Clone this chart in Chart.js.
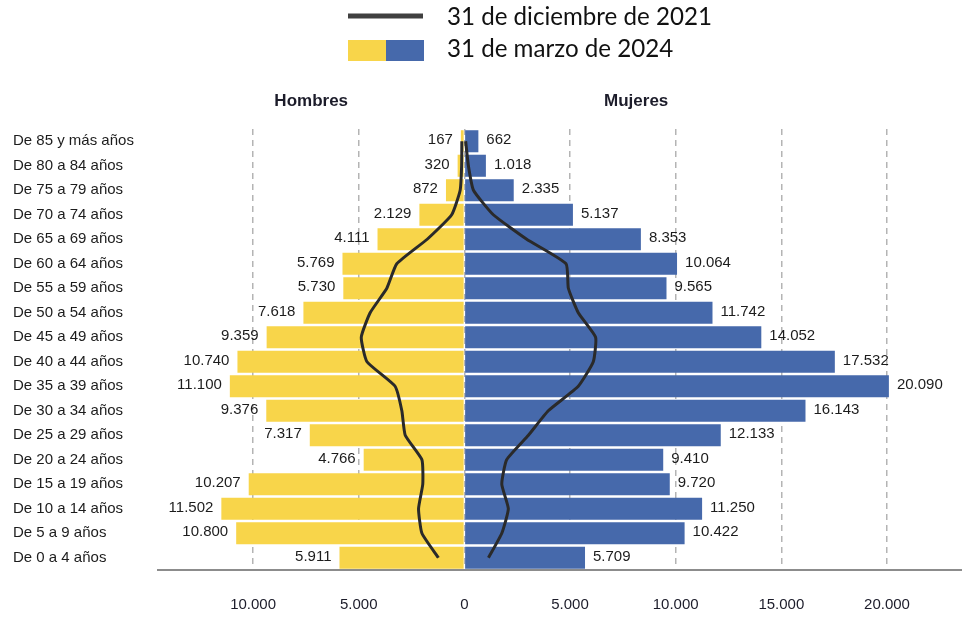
<!DOCTYPE html>
<html>
<head>
<meta charset="utf-8">
<script src="https://cdn.jsdelivr.net/npm/chart.js@4.4.1/dist/chart.umd.min.js"></script>
<style>
html, body { margin: 0; padding: 0; background: #fff; }
#wrap { position: relative; width: 962px; height: 617px; }
</style>
</head>
<body>
<div id="wrap"><canvas id="pyramidChart"></canvas></div>
<script>
// Data (top row first)
const ageGroups = [
    "De 85 y más años", "De 80 a 84 años", "De 75 a 79 años", "De 70 a 74 años",
    "De 65 a 69 años", "De 60 a 64 años", "De 55 a 59 años", "De 50 a 54 años",
    "De 45 a 49 años", "De 40 a 44 años", "De 35 a 39 años", "De 30 a 34 años",
    "De 25 a 29 años", "De 20 a 24 años", "De 15 a 19 años", "De 10 a 14 años",
    "De 5 a 9 años", "De 0 a 4 años"
];
const men2024 = [167, 320, 872, 2129, 4111, 5769, 5730, 7618, 9359, 10740, 11100, 9376, 7317, 4766, 10207, 11502, 10800, 5911];
const women2024 = [662, 1018, 2335, 5137, 8353, 10064, 9565, 11742, 14052, 17532, 20090, 16143, 12133, 9410, 9720, 11250, 10422, 5709];
const men2021 = [120, 130, 200, 600, 1760, 3200, 3670, 4460, 4880, 4610, 3280, 2960, 2800, 2010, 1970, 2170, 2010, 1230];
const women2021 = [60, 190, 430, 1370, 2950, 4810, 4920, 5390, 6210, 6100, 5390, 3970, 3030, 2000, 1770, 2080, 1770, 1140];
const xTicks = [-10000, -5000, 0, 5000, 10000, 15000, 20000];

const legendLine = "31 de diciembre de 2021";
const legendBars = "31 de marzo de 2024";
const menTitle = "Hombres";
const womenTitle = "Mujeres";

const yellow = "#F8D54A";
const blue = "#4669AB";
const lineColor = "#2a2a2a";
const textFont = "'Liberation Sans', Arial, sans-serif";

const formatNumber = (v) => String(Math.round(Math.abs(v))).replace(/\B(?=(\d{3})+(?!\d))/g, ".");

// Value labels, headers and legend
const decorPlugin = {
    id: "decor",
    afterDatasetsDraw(chart) {
        const ctx = chart.ctx;
        ctx.save();
        ctx.font = "15px " + textFont;
        ctx.fillStyle = "#1c1c1c";
        ctx.textBaseline = "middle";
        [2, 3].forEach(dsIndex => {
            const meta = chart.getDatasetMeta(dsIndex);
            const values = chart.data.datasets[dsIndex].data;
            meta.data.forEach((bar, i) => {
                const v = values[i];
                if (v < 0) {
                    ctx.textAlign = "right";
                    ctx.fillText(formatNumber(v), bar.x - 8, bar.y - 1);
                } else {
                    ctx.textAlign = "left";
                    ctx.fillText(formatNumber(v), bar.x + 8, bar.y - 1);
                }
            });
        });
        ctx.restore();
    },
    afterDraw(chart) {
        const ctx = chart.ctx;
        const xScale = chart.scales.x;
        ctx.save();

        // Headers
        ctx.font = "bold 17px " + textFont;
        ctx.fillStyle = "#1c1c2a";
        ctx.textAlign = "center";
        ctx.textBaseline = "middle";
        ctx.fillText(menTitle, (chart.chartArea.left + xScale.getPixelForValue(0)) / 2, 101);
        ctx.fillText(womenTitle, xScale.getPixelForValue(8130), 101);

        // Legend
        ctx.strokeStyle = "#404040";
        ctx.lineWidth = 5;
        ctx.beginPath();
        ctx.moveTo(348, 16);
        ctx.lineTo(423, 16);
        ctx.stroke();
        ctx.fillStyle = yellow;
        ctx.fillRect(348, 40, 38, 21);
        ctx.fillStyle = blue;
        ctx.fillRect(386, 40, 38, 21);

        ctx.font = "24px Lato, 'Open Sans', sans-serif";
        const size = 24 * 265 / ctx.measureText(legendLine).width;
        ctx.font = size.toFixed(2) + "px Lato, 'Open Sans', sans-serif";
        ctx.fillStyle = "#111";
        ctx.textAlign = "left";
        ctx.textBaseline = "middle";
        ctx.fillText(legendLine, 447, 17);
        ctx.fillText(legendBars, 447, 49);
        ctx.restore();
    }
};

new Chart(document.getElementById("pyramidChart"), {
    type: "bar",
    data: {
        labels: ageGroups,
        datasets: [
            {
                type: "line",
                label: legendLine,
                data: men2021.map(v => -v),
                borderColor: lineColor,
                borderWidth: 3,
                pointRadius: 0,
                tension: 0.15,
                order: 0
            },
            {
                type: "line",
                label: legendLine,
                data: women2021,
                borderColor: lineColor,
                borderWidth: 3,
                pointRadius: 0,
                tension: 0.15,
                order: 0
            },
            {
                label: menTitle,
                data: men2024.map(v => -v),
                backgroundColor: yellow,
                grouped: false,
                barPercentage: 0.9,
                categoryPercentage: 1,
                order: 1
            },
            {
                label: womenTitle,
                data: women2024,
                backgroundColor: blue,
                grouped: false,
                barPercentage: 0.9,
                categoryPercentage: 1,
                order: 1
            }
        ]
    },
    options: {
        indexAxis: "y",
        responsive: true,
        maintainAspectRatio: false,
        animation: false,
        layout: { padding: { left: 13, right: 0, top: 129, bottom: 3 } },
        plugins: {
            legend: { display: false },
            tooltip: { enabled: false }
        },
        scales: {
            x: {
                type: "linear",
                min: -14500,
                max: 23550,
                afterBuildTicks: (scale) => {
                    scale.ticks = xTicks.map(v => ({ value: v }));
                },
                afterFit: (scale) => {
                    scale.height = 44;
                },
                ticks: {
                    callback: (v) => formatNumber(v),
                    font: { size: 15, family: textFont },
                    color: "#1c1c2a",
                    padding: 26,
                    maxRotation: 0
                },
                grid: {
                    color: "#b4b4b4",
                    lineWidth: 1.5,
                    drawTicks: false
                },
                border: {
                    display: true,
                    color: "#8c8c8c",
                    width: 2,
                    dash: [6, 5]
                }
            },
            y: {
                type: "category",
                afterFit: (scale) => {
                    scale.width = 145;
                },
                ticks: {
                    crossAlign: "far",
                    font: { size: 15, family: textFont },
                    color: "#1c1c1c",
                    padding: 0
                },
                grid: { display: false },
                border: { display: false }
            }
        }
    },
    plugins: [decorPlugin]
});
</script>
</body>
</html>
